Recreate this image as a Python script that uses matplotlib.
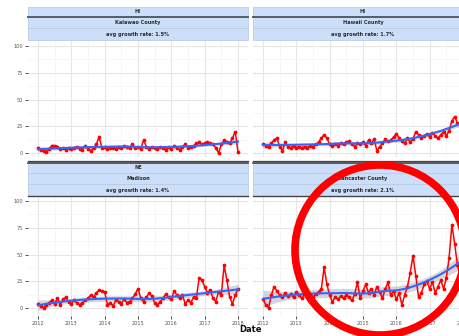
import numpy as np
import matplotlib
matplotlib.use("Agg")
import matplotlib.pyplot as plt
from matplotlib.patches import Rectangle, Ellipse

# monthly series, Jan 2012 .. Jan 2018
years = ["2012", "2013", "2014", "2015", "2016", "2017", "2018"]
n_months = 73

states = ["HI", "HI", "NE", "NE"]
counties = ["Kalawao County", "Hawaii County", "Madison", "Lancaster County"]
growth = ["avg growth rate: 1.5%", "avg growth rate: 1.7%",
          "avg growth rate: 1.4%", "avg growth rate: 2.1%"]

hi_kalawao = [5, 3, 2, 1, 4, 7, 7, 6, 4, 5,
              3, 5, 4, 5, 6, 4, 3, 7, 4, 2,
              5, 8, 15, 5, 6, 4, 5, 5, 4, 6,
              5, 7, 6, 5, 8, 5, 6, 4, 12, 6,
              4, 6, 5, 4, 6, 5, 3, 6, 4, 7,
              5, 3, 6, 8, 5, 6, 7, 9, 10, 8,
              9, 10, 9, 8, 5, 0, 8, 12, 10, 9,
              14, 20, 1]
hi_hawaii = [8, 7, 6, 9, 12, 14, 6, 2, 10, 6,
             5, 7, 5, 6, 5, 6, 5, 7, 6, 8,
             10, 14, 17, 14, 8, 7, 8, 7, 9, 8,
             10, 11, 8, 6, 9, 8, 10, 7, 12, 9,
             13, 2, 6, 9, 13, 11, 12, 15, 18, 14,
             11, 9, 14, 10, 13, 20, 17, 14, 16, 18,
             15, 19, 16, 14, 17, 20, 16, 21, 30, 34,
             28, 26, 30]
ne_madison = [4, 2, 0, 3, 5, 7, 4, 9, 3, 8,
              10, 6, 4, 7, 5, 3, 5, 7, 9, 12,
              10, 14, 17, 16, 15, 3, 5, 2, 7, 6,
              4, 8, 5, 6, 9, 13, 18, 9, 6, 10,
              14, 11, 5, 3, 6, 9, 13, 10, 8, 16,
              12, 9, 12, 4, 7, 5, 10, 9, 28, 26,
              20, 14, 17, 9, 6, 15, 12, 40, 26, 10,
              4, 12, 18]
ne_lancaster = [8, 3, 0, 12, 20, 16, 12, 10, 14, 11,
                13, 10, 15, 12, 9, 14, 11, 12, 10, 13,
                15, 18, 38, 22, 12, 6, 10, 8, 11, 9,
                12, 10, 7, 13, 24, 9, 16, 22, 14, 18,
                12, 20, 15, 9, 18, 24, 12, 16, 8, 14,
                3, 12, 20, 33, 49, 30, 10, 14, 22, 25,
                18, 24, 14, 20, 26, 18, 28, 47, 78, 60,
                40, 30, 36]
series = [hi_kalawao, hi_hawaii, ne_madison, ne_lancaster]


def loess(x, y, span=0.75):
    # local quadratic fit with tricube weights, plus pointwise 95% band
    n = len(x)
    k = int(np.ceil(span * n))
    X = np.column_stack([np.ones(n), x, x ** 2])
    fit = np.zeros(n)
    hat = np.zeros((n, n))
    for i in range(n):
        d = np.abs(x - x[i])
        h = np.sort(d)[k - 1]
        w = np.clip(1 - (d / h) ** 3, 0, None) ** 3
        W = np.diag(w)
        A = np.linalg.pinv(X.T @ W @ X) @ X.T @ W
        hat[i] = X[i] @ A
        fit[i] = hat[i] @ y
    resid = y - fit
    dof = n - np.trace(hat)
    sigma = np.sqrt(np.sum(resid ** 2) / dof)
    se = sigma * np.sqrt(np.sum(hat ** 2, axis=1))
    return fit, 1.96 * se


W_PX, H_PX = 459, 336
fig = plt.figure(figsize=(W_PX / 100, H_PX / 100), dpi=100)


def fx(px):
    return px / W_PX


def fy(py):
    return 1 - py / H_PX


def hline(y, x0, x1, color, lw):
    fig.add_artist(plt.Line2D([fx(x0), fx(x1)], [fy(y), fy(y)], color=color,
                              lw=lw, transform=fig.transFigure))


strip_fill = "#cbdffa"
lefts = [28, 253, 28, 253]
panel_w = 220
# (strip top, strip bottom, panel top, panel bottom, ylim)
rows = [(7, 40, 40, 157, (-3.7, 105.6)), (163, 196, 196, 316, (-7.5, 104.7))]

x = np.arange(n_months, dtype=float)
for i, vals in enumerate(series):
    x0 = lefts[i]
    st, sb, pt, pb, ylim = rows[i // 2]
    ax = fig.add_axes([fx(x0), fy(pb), fx(panel_w), (pb - pt) / H_PX])
    y = np.array(vals, dtype=float)
    smooth, band = loess(x, y)
    ax.fill_between(x, smooth - band, smooth + band, color="#999999",
                    alpha=0.4, lw=0, zorder=2)
    ax.plot(x, y, color="red", lw=1.1, marker="o", ms=1.7, zorder=3)
    ax.plot(x, smooth, color="#3366ff", lw=1.5, zorder=4)
    ax.set_xlim(-0.05 * 72, 72 * 1.05)
    ax.set_ylim(*ylim)
    ax.set_xticks(np.arange(0, 73, 12))
    ax.set_xticks(np.arange(6, 73, 12), minor=True)
    ax.set_yticks([0, 25, 50, 75, 100])
    ax.set_yticks([12.5, 37.5, 62.5, 87.5], minor=True)
    ax.grid(True, which="major", color="#e6e6e6", lw=0.8)
    ax.grid(True, which="minor", color="#f3f3f3", lw=0.5)
    ax.set_axisbelow(True)
    for s in ax.spines.values():
        s.set_visible(False)
    ax.tick_params(which="major", length=2, width=0.6, color="#333333",
                   labelsize=3.6, labelcolor="#555555", pad=1.5)
    ax.tick_params(which="minor", length=0)
    if i < 2:
        ax.set_xticklabels([])
        ax.tick_params(axis="x", length=0)
    else:
        ax.set_xticklabels(years)
    if i % 2 == 1:
        ax.set_yticklabels([])
        ax.tick_params(axis="y", length=0)

    # three-row facet strip
    r1 = st + (sb - st) * 0.30
    r2 = st + (sb - st) * 0.65
    bounds = [(st, r1), (r1, r2), (r2, sb)]
    labels = [states[i], counties[i], growth[i]]
    for (a, b), lab in zip(bounds, labels):
        fig.add_artist(Rectangle((fx(x0), fy(b)), fx(panel_w), (b - a) / H_PX,
                                 facecolor=strip_fill, edgecolor="#b8c8dc",
                                 lw=0.5, transform=fig.transFigure))
        fig.text(fx(x0 + panel_w / 2), fy((a + b) / 2), lab, fontsize=3.6,
                 fontweight="bold", color="#2a2a2a", ha="center", va="center")
    if i < 2:
        hline(r1, x0, x0 + panel_w, "#555d66", 1.4)
    else:
        hline(st - 2.5, x0, x0 + panel_w, "#444444", 0.9)
        hline(st, x0, x0 + panel_w, "#444444", 1.2)
        hline(sb, x0, x0 + panel_w, "#444444", 1.0)

fig.text(fx(250), fy(329), "Date", fontsize=6, fontweight="bold",
         ha="center", va="center", color="#111111")

# highlight ring over the lower right panel
ring = Ellipse((fx(380), fy(250)), fx(170), 170 / H_PX, fill=False,
               edgecolor="#ff0000", lw=5.5, transform=fig.transFigure,
               zorder=10)
fig.add_artist(ring)

fig.savefig("out.png", dpi=100)
